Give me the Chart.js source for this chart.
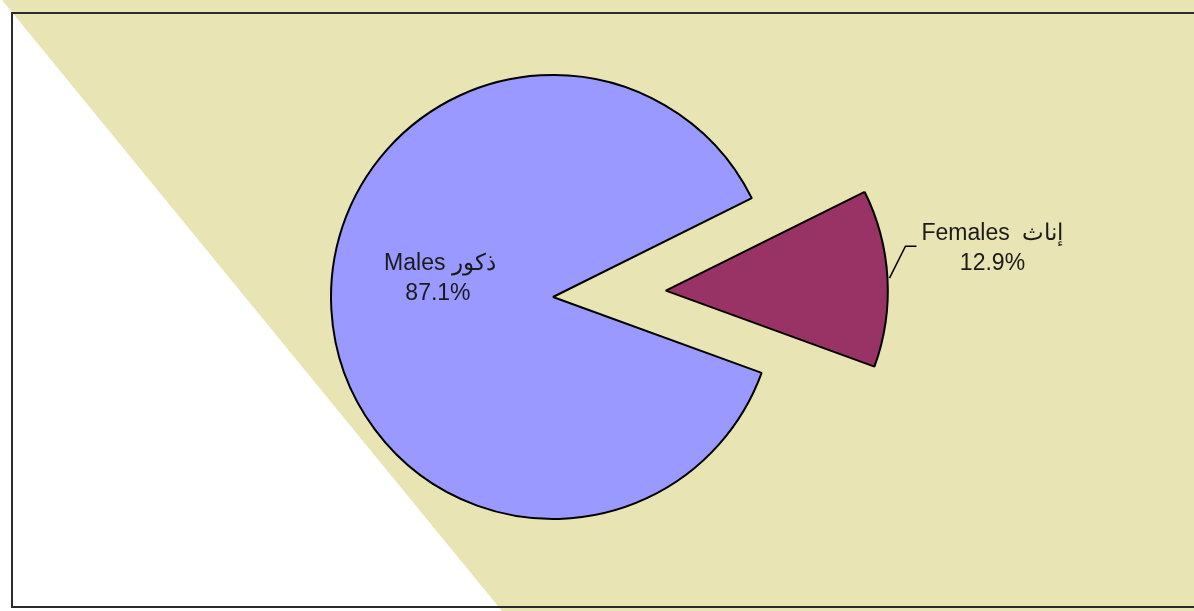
<!DOCTYPE html>
<html>
<head>
<meta charset="utf-8">
<script src="https://cdn.jsdelivr.net/npm/chart.js@4/dist/chart.umd.min.js"></script>
<style>
  html, body { margin: 0; padding: 0; background: #fff; }
  #wrap { width: 1194px; height: 611px; }
</style>
</head>
<body>
<div id="wrap"><canvas id="myChart" width="1194" height="611"></canvas></div>
<script>
// chart data
var labels = ["Males ذكور", "Females  إناث"];
var values = [87.1, 12.9];
var colors = ["#9999ff", "#993366"];
var explode = [0, 113]; // pixels the slice is pulled out

// beige background, white corner and frame
var backdrop = {
  id: "backdrop",
  beforeDraw: function (chart) {
    var c = chart.ctx;
    c.save();
    c.fillStyle = "#e8e4b4";
    c.fillRect(0, 0, chart.width, chart.height);
    c.fillStyle = "#ffffff";
    c.beginPath();
    c.moveTo(0, 0);
    c.lineTo(2, 0);
    c.lineTo(502, 611);
    c.lineTo(0, 611);
    c.closePath();
    c.fill();
    c.strokeStyle = "#2a2a2a";
    c.lineWidth = 2;
    c.strokeRect(12, 13, 1300, 594);
    c.restore();
  }
};

// Chart.js grows an exploded arc's radius and trims its angle; undo both
var keepShape = {
  id: "keepShape",
  afterUpdate: function (chart) {
    var meta = chart.getDatasetMeta(0);
    var R = meta.controller.outerRadius;
    meta.data.forEach(function (arc, i) {
      var circ = arc.endAngle - arc.startAngle;
      var grow = explode[i] * (1 - Math.sin(Math.min(Math.PI, circ)));
      var trim = grow / (2 * Math.PI * R);
      arc.outerRadius = R - grow;
      arc.startAngle -= trim;
      arc.endAngle += trim;
    });
  }
};

// slice labels
var sliceLabels = {
  id: "sliceLabels",
  afterDatasetsDraw: function (chart) {
    var c = chart.ctx;
    var meta = chart.getDatasetMeta(0);
    var r = meta.controller.outerRadius;
    var total = values.reduce(function (a, b) { return a + b; }, 0);
    c.save();
    c.font = "23px 'Liberation Sans', Arial, sans-serif";
    c.fillStyle = "#1a1a1a";
    c.textAlign = "center";
    c.textBaseline = "middle";
    meta.data.forEach(function (arc, i) {
      var p = arc.getProps(["x", "y", "startAngle", "endAngle"], true);
      var mid = (p.startAngle + p.endAngle) / 2;
      var cx = p.x + Math.cos(mid) * explode[i];
      var cy = p.y + Math.sin(mid) * explode[i];
      var pct = (values[i] / total * 100).toFixed(1) + "%";
      if (i === 0) {
        var lx = cx + Math.cos(mid) * r * 0.51;
        var ly = cy + Math.sin(mid) * r * 0.51 - 25;
        c.fillText(labels[i], lx, ly - 15);
        c.fillText(pct, lx - 2, ly + 15);
      } else {
        var x0 = cx + Math.cos(mid) * r + 2;
        var y0 = cy + Math.sin(mid) * r;
        var x1 = x0 + 16, y1 = y0 - 32;
        var x2 = x1 + 11;
        c.strokeStyle = "#000";
        c.lineWidth = 1.5;
        c.beginPath();
        c.moveTo(x0, y0);
        c.lineTo(x1, y1);
        c.lineTo(x2, y1);
        c.stroke();
        c.fillText(labels[i], x2 + 76, y1 - 13);
        c.fillText(pct, x2 + 76, y1 + 17);
      }
    });
    c.restore();
  }
};

var ctx = document.getElementById("myChart").getContext("2d");
var chart = new Chart(ctx, {
  type: "pie",
  data: {
    labels: labels,
    datasets: [
      {
        data: values,
        backgroundColor: colors,
        borderColor: "#000000",
        borderWidth: 2,
        // Chart.js moves an arc by a quarter of its offset
        offset: explode.map(function (v) { return v * 4; })
      }
    ]
  },
  options: {
    responsive: false,
    animation: false,
    rotation: 110,
    radius: 222,
    layout: { padding: { left: 0, right: 88, top: 0, bottom: 17 } },
    plugins: {
      legend: { display: false },
      tooltip: { enabled: false }
    }
  },
  plugins: [backdrop, keepShape, sliceLabels]
});
</script>
</body>
</html>
